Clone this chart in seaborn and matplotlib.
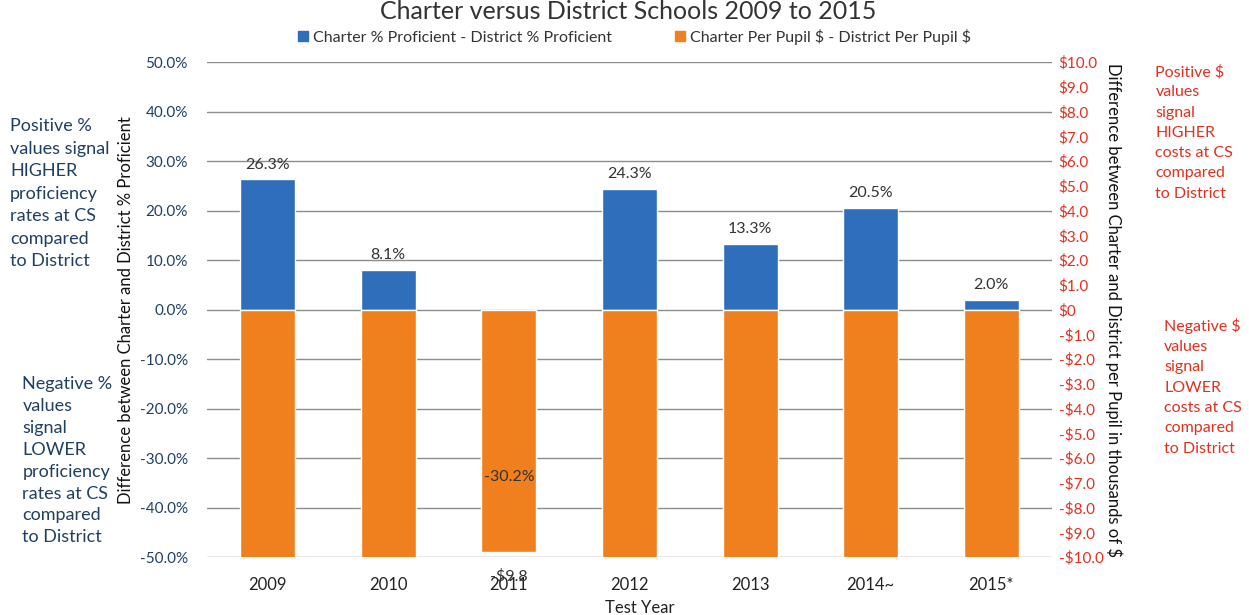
import matplotlib
matplotlib.use("Agg")
import matplotlib.pyplot as plt
import matplotlib.ticker as mticker
from matplotlib.patches import Patch
import seaborn as sns
import pandas as pd

years = ["2009", "2010", "2011", "2012", "2013", "2014~", "2015*"]
pct_diff = [26.3, 8.1, -30.2, 24.3, 13.3, 20.5, 2.0]          # Charter % Proficient - District % Proficient
dollar_diff = [-10.6, -10.4, -9.8, -10.5, -10.7, -10.4, -10.5]  # Charter $ - District $ (thousands); only 2011 inside the axis range
pct_ticks = [-50, -40, -30, -20, -10, 0, 10, 20, 30, 40, 50]
dollar_ticks = list(range(-10, 11))

blue = "#2F6EBA"
orange = "#F07F1E"
navy = "#1F3F63"
red = "#E0301E"

sns.set_theme(style="white")
plt.rcParams["font.family"] = ["Lato", "DejaVu Sans"]
plt.rcParams["text.parse_math"] = False

df = pd.DataFrame({"year": years, "pct": pct_diff, "usd": dollar_diff})

fig = plt.figure(figsize=(12.49, 6.15), dpi=100)
ax = fig.add_axes([0.166, 0.094, 0.676, 0.805])
ax2 = ax.twinx()

sns.barplot(data=df, x="year", y="pct", color=blue, width=0.455, ax=ax, saturation=1)
sns.barplot(data=df, x="year", y="usd", color=orange, width=0.455, ax=ax2, saturation=1)

ax.set_ylim(-50, 50)
ax2.set_ylim(-10, 10)
ax.set_xlim(-0.5, len(years) - 0.5)

ax.set_yticks(pct_ticks)
ax.yaxis.set_major_formatter(mticker.FuncFormatter(lambda v, p: f"{v:.1f}%"))
ax2.set_yticks(dollar_ticks)
ax2.yaxis.set_major_formatter(mticker.FuncFormatter(
    lambda v, p: "$0" if v == 0 else (f"-${abs(v):.1f}" if v < 0 else f"${v:.1f}")))

ax.grid(axis="y", color="#8c8c8c", linewidth=1.0)
ax.set_axisbelow(True)
for a in (ax, ax2):
    for s in a.spines.values():
        s.set_visible(False)
ax.tick_params(axis="y", labelsize=11, labelcolor=navy, length=0, pad=14)
ax.tick_params(axis="x", labelsize=12, labelcolor="#222222", length=0, pad=14)
ax2.tick_params(axis="y", labelsize=11, labelcolor=red, length=0, pad=5)

ax.set_xlabel("Test Year", fontsize=12, color="#222222", labelpad=0)
ax.xaxis.set_label_coords(0.512, -0.087)
ax.set_ylabel("Difference between Charter and District % Proficient", fontsize=12, color="#111111", labelpad=4)
ax2.set_ylabel("Difference between Charter and District per Pupil in thousands of $", fontsize=12,
               color="#111111", rotation=-90, labelpad=14)

# data labels (drawn on ax2 so they sit above the orange bars)
for i, v in enumerate(pct_diff):
    off = 1.6 if v >= 0 else -2.2
    ax2.text(i, v + off, f"{v:.1f}%", transform=ax.transData, ha="center",
             va="bottom" if v >= 0 else "top", fontsize=11.5, color="#333333", zorder=10)
for i, v in enumerate(dollar_diff):
    if -10 <= v <= 10:
        ax2.text(i, v - 0.67, f"-${abs(v):.1f}" if v < 0 else f"${v:.1f}", ha="center", va="top",
                 fontsize=11.5, color="#333333", zorder=10, clip_on=False)

handles = [Patch(color=blue, label="Charter % Proficient - District % Proficient"),
           Patch(color=orange, label="Charter Per Pupil $ - District Per Pupil $")]
fig.legend(handles=handles, loc="center", bbox_to_anchor=(0.508, 0.94), ncol=2, frameon=False,
           fontsize=11.5, handlelength=0.6, handleheight=0.6, columnspacing=4, handletextpad=0.3,
           labelcolor="#333333")

fig.text(0.503, 0.982, "Charter versus District Schools 2009 to 2015", ha="center", va="center",
         fontsize=18, color="#333333")

fig.text(0.008, 0.808, "Positive %\nvalues signal\nHIGHER\nproficiency\nrates at CS\ncompared\nto District",
         ha="left", va="top", fontsize=13, color=navy, linespacing=1.5)
fig.text(0.018, 0.388, "Negative %\nvalues\nsignal\nLOWER\nproficiency\nrates at CS\ncompared\nto District",
         ha="left", va="top", fontsize=13, color=navy, linespacing=1.45)
fig.text(0.925, 0.895, "Positive $\nvalues\nsignal\nHIGHER\ncosts at CS\ncompared\nto District",
         ha="left", va="top", fontsize=11.5, color=red, linespacing=1.57)
fig.text(0.932, 0.483, "Negative $\nvalues\nsignal\nLOWER\ncosts at CS\ncompared\nto District",
         ha="left", va="top", fontsize=11.5, color=red, linespacing=1.57)

fig.savefig("out.png", dpi=100)
